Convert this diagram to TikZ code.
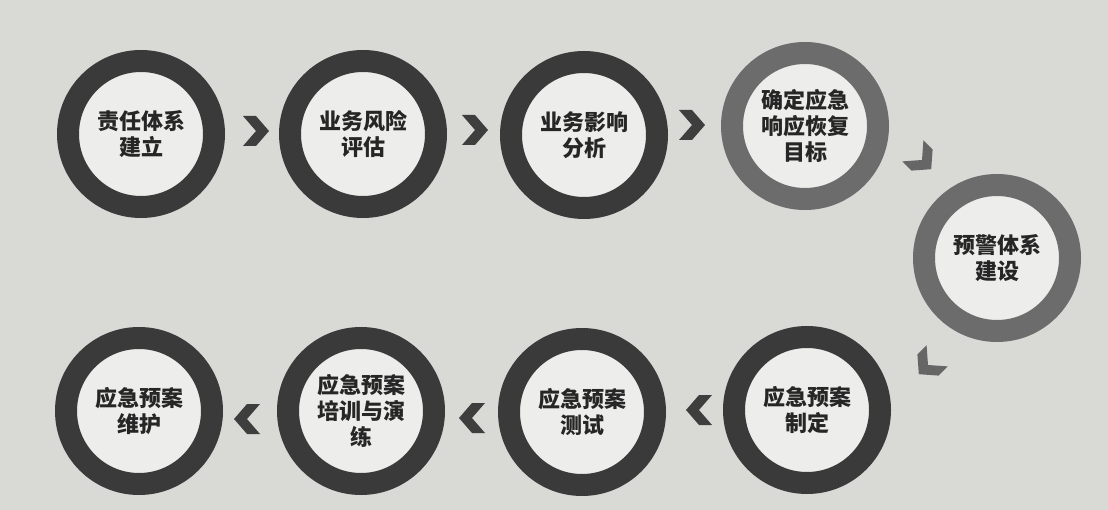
\documentclass[tikz,border=0pt]{standalone}
\usepackage{fontspec}
\newfontfamily\cjk{Noto Sans CJK SC}
\definecolor{bgcol}{HTML}{D9D9D6}
\definecolor{innercol}{HTML}{EDEDEB}
\definecolor{ringdark}{HTML}{3A3A3A}
\definecolor{ringlight}{HTML}{6C6C6C}
\definecolor{txtcol}{HTML}{262626}
\definecolor{chevdark}{HTML}{3E3E3E}
\definecolor{chevlight}{HTML}{666666}
\tikzset{
  stage/.style={circle, draw=ringdark, line width=22pt, fill=innercol,
    minimum size=146pt, inner sep=0pt, align=center, text=txtcol,
    font=\cjk\bfseries\fontsize{22}{26}\selectfont},
  stagelight/.style={stage, draw=ringlight},
  chev/.pic={\fill[pic actions] (-13,-15) -- (0,-15) -- (13,0) -- (0,15) -- (-13,15) -- (0,0) -- cycle;},
  chevd/.style={fill=chevdark},
  chevl/.style={fill=chevlight}
}
\begin{document}
\begin{tikzpicture}[x=1pt,y=-1pt]
\fill[bgcol] (0,0) rectangle (1108,510);
\useasboundingbox (0,0) rectangle (1108,510);
% stages
\node[stage] (c1) at (141,134) {责任体系\\建立};
\node[stage] (c2) at (363,134) {业务风险\\评估};
\node[stage] (c3) at (584,135) {业务影响\\分析};
\node[stagelight] (c4) at (805,126) {确定应急\\响应恢复\\目标};
\node[stagelight] (c5) at (997,258) {预警体系\\建设};
\node[stage] (c6) at (807,410) {应急预案\\制定};
\node[stage] (c7) at (582,412) {应急预案\\测试};
\node[stage] (c8) at (361,411) {应急预案\\培训与演\\练};
\node[stage] (c9) at (139,411) {应急预案\\维护};
% chevron connectors
\coordinate (a12) at (256,131);
\coordinate (a23) at (475,130);
\coordinate (a34) at (692,125);
\coordinate (a45) at (922,160);
\coordinate (a56) at (928,365);
\coordinate (a67) at (699,410);
\coordinate (a78) at (472,418);
\coordinate (a89) at (247,419);
\pic[chevd] at (a12) {chev};
\pic[chevd] at (a23) {chev};
\pic[chevd] at (a34) {chev};
\pic[chevl, rotate=-45] at (a45) {chev};
\pic[chevl, rotate=-135] at (a56) {chev};
\pic[chevd, rotate=180] at (a67) {chev};
\pic[chevd, rotate=180] at (a78) {chev};
\pic[chevd, rotate=180] at (a89) {chev};
\end{tikzpicture}
\end{document}
